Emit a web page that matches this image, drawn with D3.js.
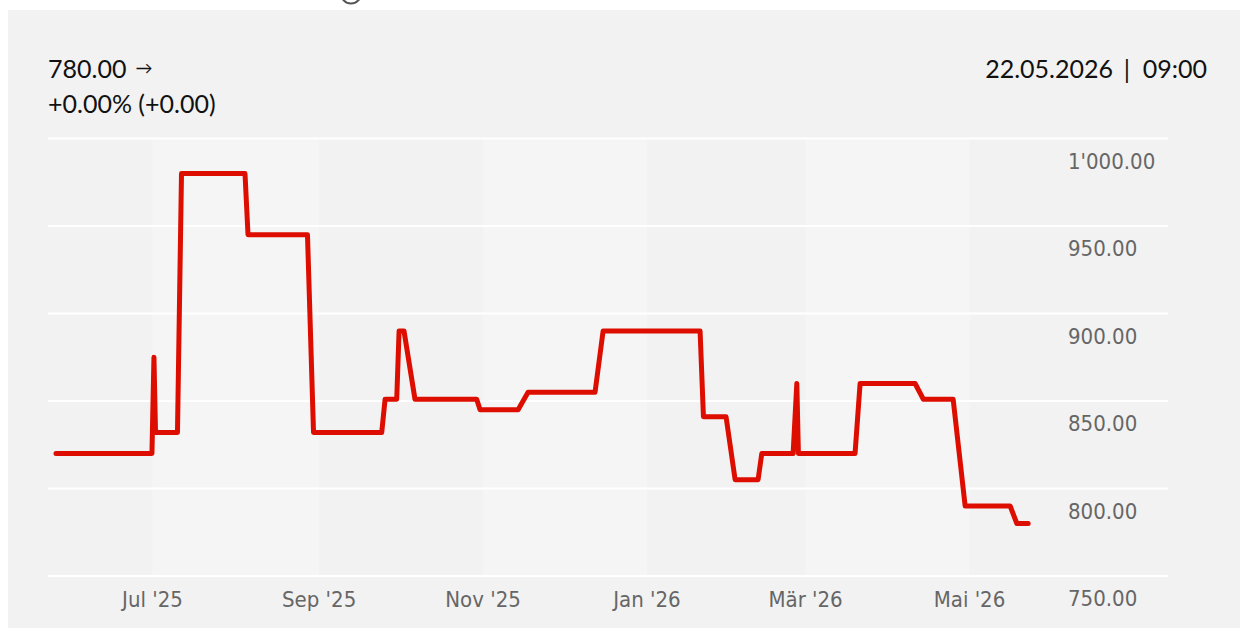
<!DOCTYPE html>
<html>
<head>
<meta charset="utf-8">
<script src="https://cdn.jsdelivr.net/npm/d3@7"></script>
<style>
  html, body { margin: 0; padding: 0; background: #ffffff; }
  svg { display: block; }
</style>
</head>
<body>
<svg id="chart" width="1240" height="628"></svg>
<script>
// ---- data ----
const dates = [
  "2025-05-26T02:00","2025-06-30T19:00","2025-07-01T13:00","2025-07-02T03:00",
  "2025-07-10T07:00","2025-07-11T19:00","2025-08-04T10:00","2025-08-05T13:00",
  "2025-08-27T16:00","2025-08-29T22:00","2025-09-24T07:00","2025-09-25T13:00",
  "2025-09-29T21:00","2025-09-30T18:00","2025-10-02T14:00","2025-10-06T16:00",
  "2025-10-29T15:00","2025-10-30T21:00","2025-11-14T01:00","2025-11-17T18:00",
  "2025-12-12T16:00","2025-12-15T16:00","2026-01-20T18:00","2026-01-22T00:00",
  "2026-01-30T10:00","2026-02-02T19:00","2026-02-11T08:00","2026-02-12T17:00",
  "2026-02-24T09:00","2026-02-25T18:00","2026-02-26T08:00","2026-03-19T10:00",
  "2026-03-21T07:00","2026-04-10T18:00","2026-04-13T20:00","2026-04-24T22:00",
  "2026-04-29T09:00","2026-05-16T03:00","2026-05-18T15:00","2026-05-22T20:00"
];
const values = [
  820, 820, 875, 832,
  832, 980, 980, 945,
  945, 832, 832, 851,
  851, 890, 890, 851,
  851, 845, 845, 855,
  855, 890, 890, 841,
  841, 805, 805, 820,
  820, 860, 820, 820,
  860, 860, 851, 851,
  790, 790, 780, 780
];
const xTickDates  = ["2025-07-01","2025-09-01","2025-11-01","2026-01-01","2026-03-01","2026-05-01"];
const xTickLabels = ["Jul '25","Sep '25","Nov '25","Jan '26","Mär '26","Mai '26"];
const yTicks = [750, 800, 850, 900, 950, 1000];
const lastValue = "780.00";
const changeText = "+0.00% (+0.00)";
const stampDate = "22.05.2026";
const stampTime = "09:00";

// ---- setup ----
const parse = d3.timeParse("%Y-%m-%dT%H:%M");
const parseDay = d3.timeParse("%Y-%m-%d");
const data = dates.map((d, i) => ({ date: parse(d), value: values[i] }));
const tickDates = xTickDates.map(parseDay);

const svg = d3.select("#chart");
const plotLeft = 48, plotRight = 1168;

const x = d3.scaleTime()
  .domain([tickDates[0], tickDates[tickDates.length - 1]])
  .range([152.5, 969.5]);
const y = d3.scaleLinear().domain([750, 1000]).range([576, 138.5]);

// background panel
svg.append("rect").attr("x", 8).attr("y", 10).attr("width", 1232).attr("height", 618)
  .attr("fill", "#f2f2f2");

// top partial circle icon
svg.append("circle").attr("cx", 351).attr("cy", -6.5).attr("r", 10)
  .attr("fill", "none").attr("stroke", "#555").attr("stroke-width", 2);

// alternating bands
for (let i = 0; i < tickDates.length - 1; i += 2) {
  svg.append("rect")
    .attr("x", x(tickDates[i]))
    .attr("y", y(1000))
    .attr("width", x(tickDates[i + 1]) - x(tickDates[i]))
    .attr("height", y(750) - y(1000))
    .attr("fill", "#f5f5f5");
}

// gridlines
svg.append("g").selectAll("line").data(yTicks).join("line")
  .attr("x1", plotLeft).attr("x2", plotRight)
  .attr("y1", d => y(d)).attr("y2", d => y(d))
  .attr("stroke", "#ffffff").attr("stroke-width", 2);

// y labels
const loc = d3.formatLocale({ decimal: ".", thousands: "'", grouping: [3], currency: ["", ""] });
const fmt = loc.format(",.2f");
svg.append("g").selectAll("text").data(yTicks).join("text")
  .attr("x", 1068).attr("y", d => y(d) + 30)
  .attr("font-family", "DejaVu Sans Condensed, DejaVu Sans")
  .attr("font-size", 22).attr("fill", "#666")
  .text(d => fmt(d));

// x labels
svg.append("g").selectAll("text").data(tickDates).join("text")
  .attr("x", d => x(d)).attr("y", 607)
  .attr("text-anchor", "middle")
  .attr("font-family", "DejaVu Sans Condensed, DejaVu Sans")
  .attr("font-size", 22).attr("fill", "#666")
  .text((d, i) => xTickLabels[i]);

// line
const line = d3.line().x(d => x(d.date)).y(d => y(d.value));
svg.append("path").datum(data)
  .attr("d", line)
  .attr("fill", "none")
  .attr("stroke", "#dd0d00")
  .attr("stroke-width", 5)
  .attr("stroke-linejoin", "round")
  .attr("stroke-linecap", "round");

// header texts
const hdrFont = "Lato, 'Noto Sans', sans-serif";
const t1 = svg.append("text").attr("x", 48).attr("y", 78)
  .attr("font-family", hdrFont).attr("font-size", 25).attr("fill", "#111");
t1.append("tspan").text(lastValue);
t1.append("tspan").attr("dx", 9).attr("font-size", 17).attr("dy", -4).text("→");
svg.append("text").attr("x", 48).attr("y", 113)
  .attr("font-family", hdrFont).attr("font-size", 25).attr("fill", "#111")
  .text(changeText);
svg.append("text").attr("x", 1113).attr("y", 78).attr("text-anchor", "end")
  .attr("font-family", hdrFont).attr("font-size", 25).attr("fill", "#111")
  .text(stampDate);
svg.append("text").attr("x", 1127).attr("y", 79).attr("text-anchor", "middle")
  .attr("font-family", hdrFont).attr("font-size", 25).attr("fill", "#111")
  .text("|");
svg.append("text").attr("x", 1207).attr("y", 78).attr("text-anchor", "end")
  .attr("font-family", hdrFont).attr("font-size", 25).attr("fill", "#111")
  .text(stampTime);
</script>
</body>
</html>
